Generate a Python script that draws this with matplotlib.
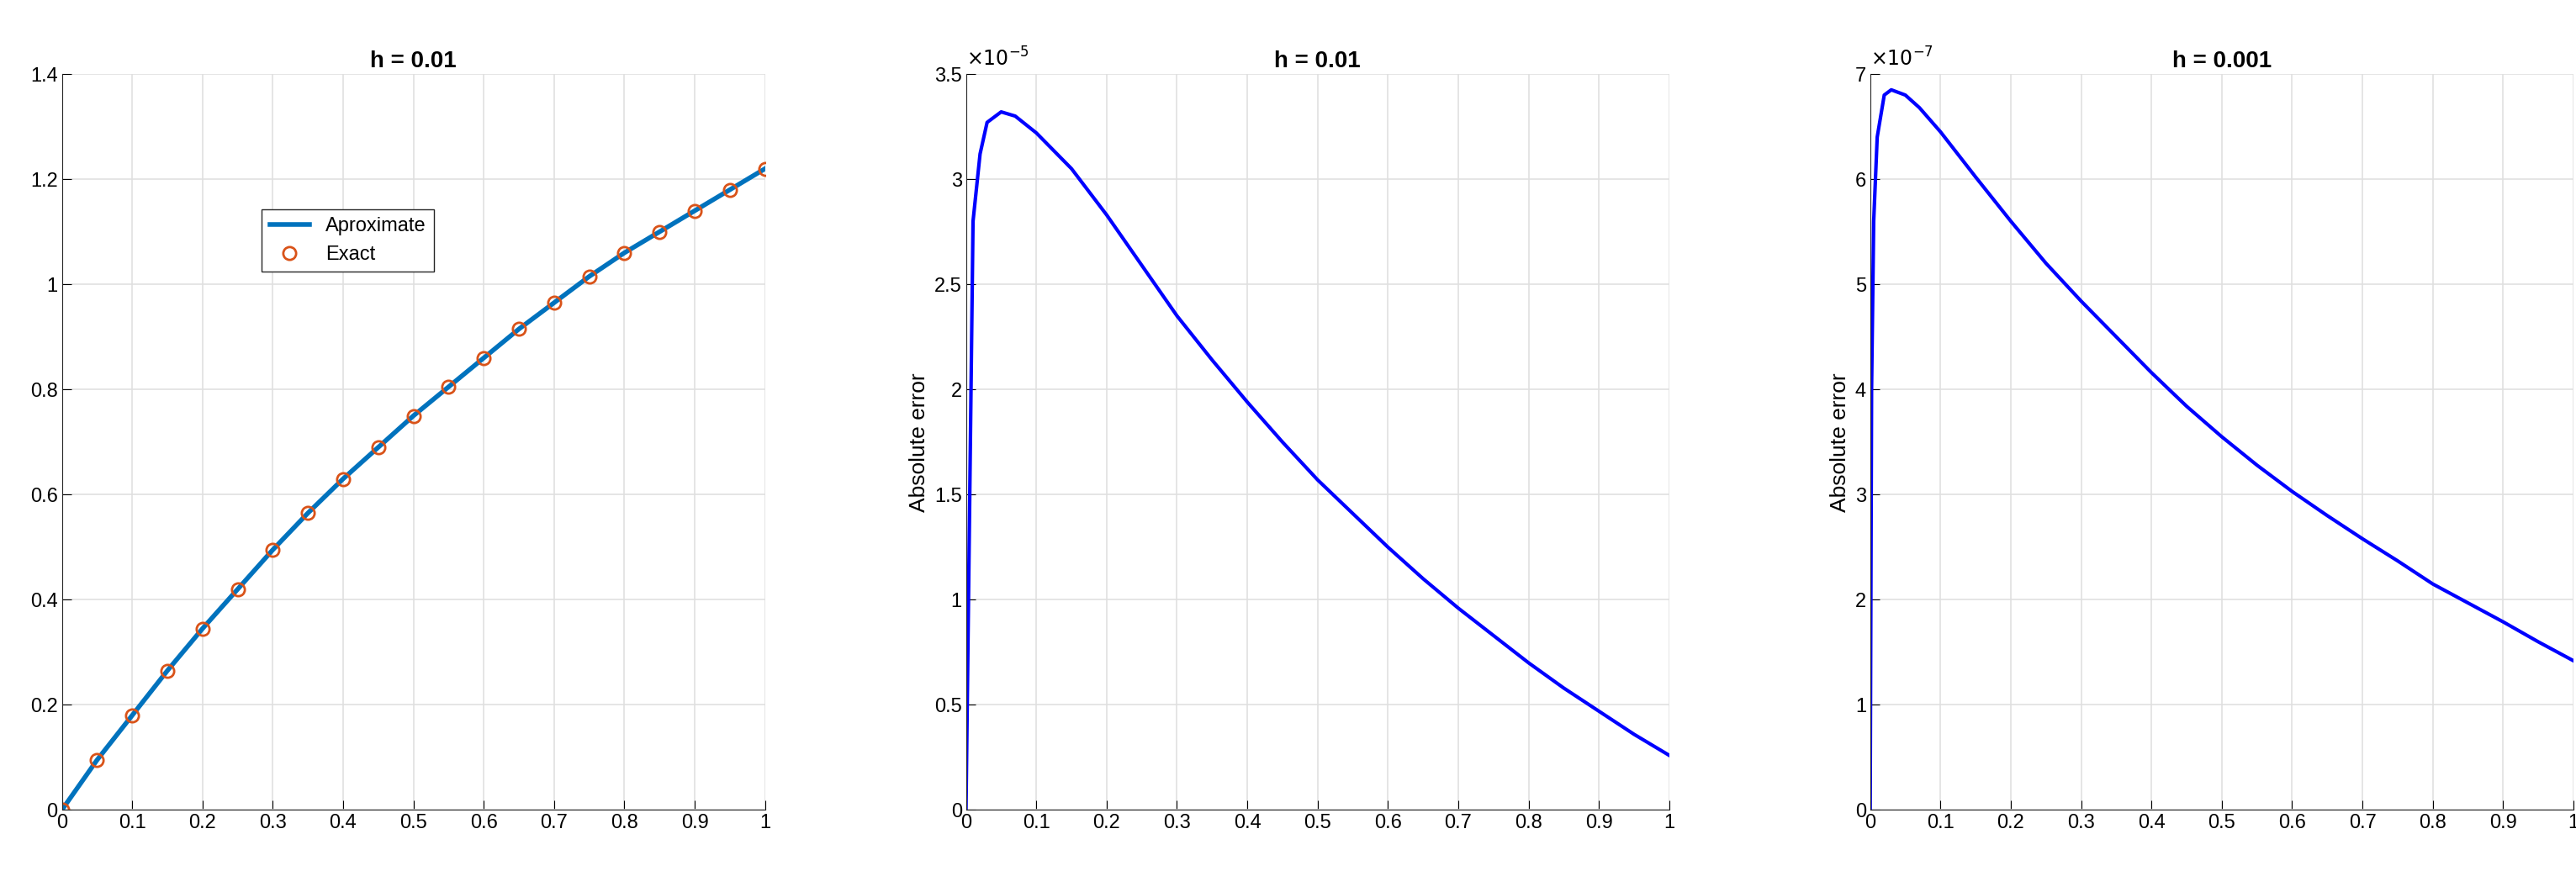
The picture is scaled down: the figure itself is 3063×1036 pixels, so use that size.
import numpy as np
import matplotlib.pyplot as plt

# left panel: solution values
x_sol = [0.0, 0.05, 0.1, 0.15, 0.2, 0.25, 0.3, 0.35, 0.4, 0.45, 0.5,
         0.55, 0.6, 0.65, 0.7, 0.75, 0.8, 0.85, 0.9, 0.95, 1.0]
y_sol = [0.0, 0.095, 0.18, 0.265, 0.345, 0.42, 0.495, 0.565, 0.63, 0.69, 0.75,
         0.805, 0.86, 0.915, 0.965, 1.015, 1.06, 1.10, 1.14, 1.18, 1.22]

# error for h = 0.01 (x1e-5)
x_err1 = [0.0, 0.01, 0.02, 0.03, 0.05, 0.07, 0.1, 0.15, 0.2, 0.25, 0.3, 0.35, 0.4,
          0.45, 0.5, 0.55, 0.6, 0.65, 0.7, 0.75, 0.8, 0.85, 0.9, 0.95, 1.0]
y_err1 = [0.0, 2.8, 3.12, 3.27, 3.32, 3.3, 3.22, 3.05, 2.83, 2.59, 2.35, 2.14, 1.94,
          1.75, 1.57, 1.41, 1.25, 1.10, 0.96, 0.83, 0.70, 0.58, 0.47, 0.36, 0.26]

# error for h = 0.001 (x1e-7)
x_err2 = [0.0, 0.002, 0.005, 0.01, 0.02, 0.03, 0.05, 0.07, 0.1, 0.15, 0.2, 0.25, 0.3,
          0.35, 0.4, 0.45, 0.5, 0.55, 0.6, 0.65, 0.7, 0.75, 0.8, 0.85, 0.9, 0.95, 1.0]
y_err2 = [0.0, 4.0, 5.6, 6.4, 6.8, 6.85, 6.8, 6.68, 6.45, 6.02, 5.6, 5.2, 4.84,
          4.5, 4.16, 3.84, 3.55, 3.28, 3.03, 2.80, 2.58, 2.37, 2.15, 1.97, 1.79, 1.60, 1.42]

plt.rcParams['font.family'] = 'Liberation Sans'
fig = plt.figure(figsize=(30.63, 10.36), dpi=100)

lefts = [0.024, 0.375, 0.726]
axes = [fig.add_axes([l, 0.07, 0.273, 0.845]) for l in lefts]

def style(ax):
    ax.grid(True, color='#e0e0e0', linewidth=1.2)
    ax.set_axisbelow(True)
    ax.set_xlim(0, 1)
    ax.set_xticks(np.arange(0, 1.01, 0.1))
    ax.set_xticklabels(['0', '0.1', '0.2', '0.3', '0.4', '0.5', '0.6', '0.7', '0.8', '0.9', '1'])
    ax.tick_params(labelsize=17, direction='in', length=8)
    for s in ['top', 'right']:
        ax.spines[s].set_visible(False)
    for s in ['left', 'bottom']:
        ax.spines[s].set_color('#262626')

ax = axes[0]
style(ax)
ax.plot(x_sol, y_sol, color='#0072bd', linewidth=4, label='Aproximate')
ax.plot(x_sol, y_sol, 'o', mfc='none', mec='#d95319', ms=11, mew=2, label='Exact')
ax.set_ylim(0, 1.4)
ax.set_yticks(np.arange(0, 1.41, 0.2))
ax.set_yticklabels(['0', '0.2', '0.4', '0.6', '0.8', '1', '1.2', '1.4'])
ax.set_title('h = 0.01', fontsize=20, fontweight='bold')
leg = ax.legend(loc='upper left', bbox_to_anchor=(0.27, 0.83), fontsize=17,
                fancybox=False, edgecolor='#262626', framealpha=1)

ax = axes[1]
style(ax)
ax.plot(x_err1, y_err1, color='#0000ff', linewidth=3)
ax.set_ylim(0, 3.5)
ax.set_yticks(np.arange(0, 3.51, 0.5))
ax.set_yticklabels(['0', '0.5', '1', '1.5', '2', '2.5', '3', '3.5'])
ax.set_ylabel('Absolute error', fontsize=19)
ax.set_title('h = 0.01', fontsize=20, fontweight='bold')
ax.text(0, 1.005, r'$\times10^{-5}$', transform=ax.transAxes, fontsize=17, va='bottom')

ax = axes[2]
style(ax)
ax.plot(x_err2, y_err2, color='#0000ff', linewidth=3)
ax.set_ylim(0, 7)
ax.set_yticks(range(8))
ax.set_ylabel('Absolute error', fontsize=19)
ax.set_title('h = 0.001', fontsize=20, fontweight='bold')
ax.text(0, 1.005, r'$\times10^{-7}$', transform=ax.transAxes, fontsize=17, va='bottom')

fig.savefig('out.png', dpi=100)
